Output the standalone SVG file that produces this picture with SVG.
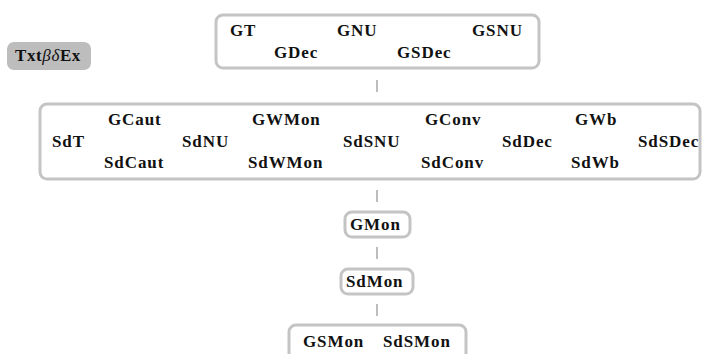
<svg xmlns="http://www.w3.org/2000/svg" width="704" height="354" viewBox="0 0 704 354">
<style>
.box{fill:#fff;stroke:#c4c4c4;stroke-width:3}
.t{font-family:"Liberation Serif","Times New Roman",serif;font-weight:bold;font-size:17px;fill:#111;letter-spacing:0.9px}
.c{stroke:#9a9a9a;stroke-width:1.3;fill:none}
</style>
<rect width="704" height="354" fill="#fff"/>
<g id="label">
<rect x="7" y="42" width="84" height="28" rx="7" fill="#bdbdbd"/>
<text class="t" x="15" y="61" style="letter-spacing:0.6px">Txt<tspan font-style="italic" font-weight="normal">βδ</tspan>Ex</text>
</g>
<g id="connectors">
<line class="c" x1="377" y1="80" x2="377" y2="92"/>
<line class="c" x1="377" y1="190" x2="377" y2="202"/>
<line class="c" x1="377" y1="247" x2="377" y2="259"/>
<line class="c" x1="377" y1="304" x2="377" y2="316"/>
</g>
<g id="n1">
<rect class="box" x="216" y="15" width="323" height="53" rx="7"/>
<text class="t" x="230" y="36">GT</text>
<text class="t" x="337" y="36">GNU</text>
<text class="t" x="472" y="36">GSNU</text>
<text class="t" x="274" y="58">GDec</text>
<text class="t" x="397" y="58">GSDec</text>
</g>
<g id="n2">
<rect class="box" x="40" y="104" width="660" height="75" rx="7"/>
<text class="t" x="108" y="125">GCaut</text>
<text class="t" x="252" y="125">GWMon</text>
<text class="t" x="425" y="125">GConv</text>
<text class="t" x="575" y="125">GWb</text>
<text class="t" x="52" y="147">SdT</text>
<text class="t" x="182" y="147">SdNU</text>
<text class="t" x="343" y="147">SdSNU</text>
<text class="t" x="502" y="147">SdDec</text>
<text class="t" x="638" y="147">SdSDec</text>
<text class="t" x="104" y="168">SdCaut</text>
<text class="t" x="248" y="168">SdWMon</text>
<text class="t" x="421" y="168">SdConv</text>
<text class="t" x="571" y="168">SdWb</text>
</g>
<g id="n3">
<rect class="box" x="345" y="212" width="65" height="25" rx="7"/>
<text class="t" x="350" y="230">GMon</text>
</g>
<g id="n4">
<rect class="box" x="341" y="269" width="72" height="25" rx="7"/>
<text class="t" x="346" y="287">SdMon</text>
</g>
<g id="n5">
<rect class="box" x="289" y="325" width="177" height="40" rx="7"/>
<text class="t" x="303" y="347">GSMon</text>
<text class="t" x="383" y="347">SdSMon</text>
</g>
</svg>
